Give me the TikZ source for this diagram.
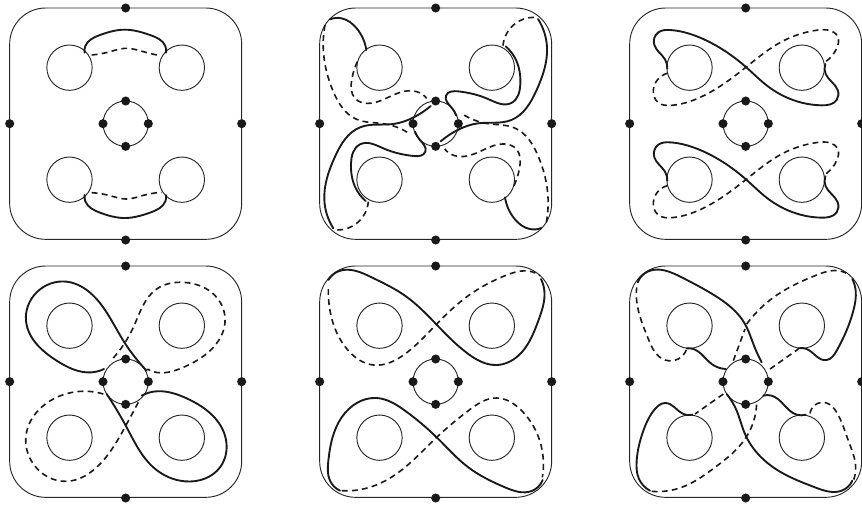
\documentclass[tikz,border=0pt]{standalone}
\usetikzlibrary{hobby}
\tikzset{
  thinl/.style={line width=0.7pt, black!85},
  sc/.style={line width=1.4pt, black!90, use Hobby shortcut, line cap=round},
  dc/.style={line width=1.2pt, black!90, use Hobby shortcut, dash pattern=on 4.4pt off 3.2pt},
  bdot/.style={circle, fill=black!90, inner sep=0pt, minimum size=6.8pt},
  zoomunits/.style={x=0.25pt, y=-0.25pt}
}
\newcommand{\basepanel}[3]{%
  \draw[thinl, rounded corners=27pt] (#2-348,#3-347) rectangle (#2+348,#3+347);
  \draw[thinl] (#2-168.5,#3-168) circle (68);
  \draw[thinl] (#2+168.5,#3-168) circle (68);
  \draw[thinl] (#2-168.5,#3+168) circle (68);
  \draw[thinl] (#2+168.5,#3+168) circle (68);
  \draw[thinl] (#2,#3) circle (68);
  \node[bdot] (#1ot) at (#2,#3-347) {};
  \node[bdot] (#1ob) at (#2,#3+349) {};
  \node[bdot] (#1ol) at (#2-348,#3) {};
  \node[bdot] (#1or) at (#2+348,#3) {};
  \node[bdot] (#1it) at (#2,#3-68) {};
  \node[bdot] (#1ib) at (#2,#3+68) {};
  \node[bdot] (#1il) at (#2-68,#3) {};
  \node[bdot] (#1ir) at (#2+68,#3) {};
}
\begin{document}
\begin{tikzpicture}
\useasboundingbox (0,0) rectangle (646.5pt,-378pt);
% panel 1
\begin{scope}[zoomunits]
\basepanel{a}{377}{371}
\draw[sc] (254,158) .. (256,138) .. (300,105) .. (375,89) .. (450,105) .. (496,138) .. (498,158);
\draw[dc] (275,165) .. (330,155) .. (375,145) .. (430,155) .. (480,167);
\draw[sc] (254,585) .. (256,604) .. (300,638) .. (375,654) .. (450,638) .. (496,604) .. (498,585);
\draw[dc] (275,578) .. (330,587) .. (378,597) .. (430,586) .. (485,577);
\end{scope}
% panel 2
\begin{scope}[shift={(225pt,0pt)},zoomunits]
\basepanel{b}{407}{371}
\foreach \ang in {0,180}{
\begin{scope}[rotate around={\ang:(407,371)}]
\draw[sc] (90,58) .. (125,55) .. (170,85) .. (199,150);
\draw[dc] (75,75) .. (70,150) .. (100,275) .. (170,358) .. (250,371) .. (330,402);
\draw[dc] (172,185) .. (155,240) .. (165,295) .. (200,310) .. (280,285) .. (350,275) .. (380,295);
\draw[sc] (392,318) .. (345,350) .. (280,372) .. (180,382) .. (105,470) .. (73,600) .. (100,685);
\draw[dc] (112,690) .. (170,670) .. (205,605);
\draw[sc] (197,603) .. (165,560) .. (153,490) .. (180,433) .. (250,445) .. (340,468) .. (376,455) .. (360,420) .. (345,395);
\end{scope}}
\end{scope}
% panel 3
\begin{scope}[shift={(461.25pt,0pt)},zoomunits]
\basepanel{c}{392}{371}
\foreach \dy in {0,337}{
\begin{scope}[yshift=\dy*-0.25pt]
\draw[sc] (157,205) .. (150,178) .. (118,135) .. (130,97) .. (165,90) .. (260,115) .. (395,203) .. (460,260) .. (560,308) .. (620,316) .. (665,300) .. (668,270) .. (632,222) .. (631,192);
\draw[dc] (157,220) .. (115,270) .. (130,308) .. (170,316) .. (270,285) .. (395,200) .. (500,125) .. (610,90) .. (668,110) .. (665,145) .. (632,185);
\end{scope}}
\end{scope}
% panel 4
\begin{scope}[yshift=-190.5pt,zoomunits]
\basepanel{d}{377}{383}
\draw[sc] (312,345) .. (275,355) .. (170,320) .. (78,200) .. (110,115) .. (200,83) .. (285,130) .. (370,260) .. (440,350);
\draw[dc] (340,312) .. (400,220) .. (470,105) .. (550,85) .. (650,130) .. (675,205) .. (640,280) .. (550,340) .. (460,353) .. (442,345);
\draw[sc] (425,425) .. (460,413) .. (560,433) .. (675,545) .. (660,640) .. (555,682) .. (460,640) .. (380,520) .. (320,420);
\draw[dc] (310,420) .. (265,412) .. (170,430) .. (78,545) .. (100,630) .. (200,682) .. (300,630) .. (380,510) .. (415,445);
\end{scope}
% panel 5
\begin{scope}[shift={(228.75pt,-190.5pt)},zoomunits]
\basepanel{e}{392}{383}
\draw[sc] (70,78) .. (100,52) .. (200,70) .. (300,125) .. (395,212) .. (490,300) .. (575,333) .. (640,305) .. (700,200) .. (718,110) .. (708,75);
\draw[dc] (70,105) .. (75,170) .. (130,290) .. (205,333) .. (300,300) .. (395,210) .. (490,125) .. (600,65) .. (680,53) .. (705,65);
\draw[sc] (105,710) .. (75,680) .. (70,620) .. (110,490) .. (215,432) .. (300,470) .. (395,550) .. (490,640) .. (600,700) .. (680,711) .. (713,678);
\draw[dc] (110,710) .. (200,698) .. (300,640) .. (395,550) .. (490,470) .. (575,432) .. (650,470) .. (715,620) .. (712,670);
\end{scope}
% panel 6
\begin{scope}[shift={(461.25pt,-190.5pt)},zoomunits]
\basepanel{f}{392}{383}
\draw[sc] (68,85) .. (100,52) .. (200,70) .. (300,125) .. (390,210) .. (415,270) .. (440,325);
\draw[sc] (215,283) .. (235,285) .. (290,330) .. (332,345);
\draw[dc] (65,100) .. (65,140) .. (100,255) .. (150,318) .. (215,285);
\draw[dc] (355,320) -- (390,225);
\draw[dc] (395,210) .. (490,120) .. (600,65) .. (680,52) .. (705,65);
\draw[dc] (465,345) -- (550,285);
\draw[sc] (550,283) .. (575,285) .. (635,318) .. (665,290) .. (715,170) .. (722,110) .. (712,75);
\draw[dc] (325,420) -- (240,480);
\draw[sc] (232,482) .. (205,480) .. (150,447) .. (120,465) .. (85,530) .. (65,620) .. (72,675) .. (105,710);
\draw[dc] (110,712) .. (200,700) .. (300,640) .. (390,555) .. (425,445);
\draw[sc] (335,420) .. (365,470) .. (390,540) .. (490,650) .. (600,700) .. (680,710) .. (712,680);
\draw[sc] (445,425) .. (470,425) .. (545,482) .. (572,482);
\draw[dc] (585,478) .. (635,447) .. (665,475) .. (700,560) .. (722,640) .. (715,680);
\end{scope}
\end{tikzpicture}
\end{document}
